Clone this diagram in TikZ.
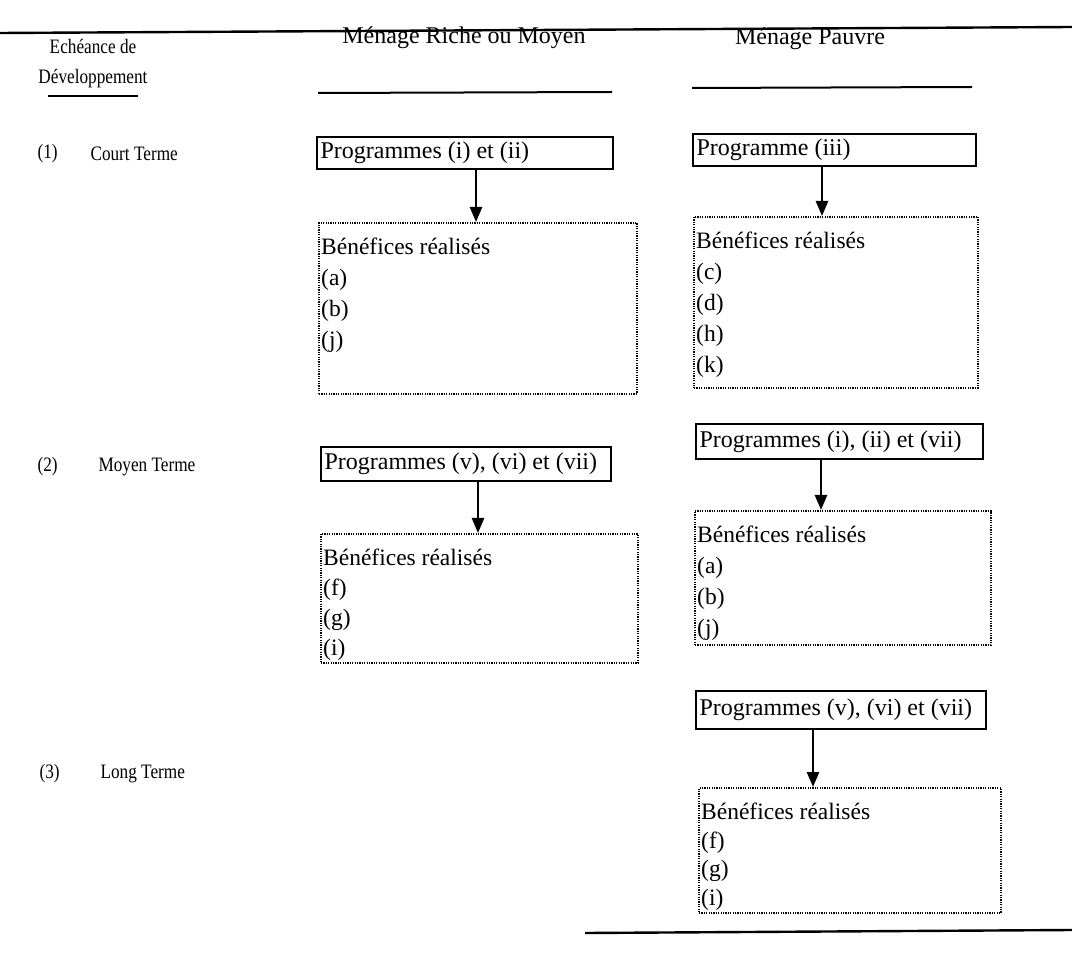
\documentclass[tikz,border=0pt]{standalone}
\usepackage{fontspec}
\setmainfont{Liberation Serif}
\newfontfamily\condfont[FakeStretch=0.84]{Liberation Serif}
\usetikzlibrary{arrows.meta}
\begin{document}
\begin{tikzpicture}[x=1pt,y=-1pt,
  rule/.style={line width=2.4pt},
  uline/.style={line width=2pt},
  progbox/.style={draw,line width=2.4pt,anchor=north west,inner sep=0pt},
  benbox/.style={draw,line width=1.8pt,dash pattern=on 1.2pt off 1.2pt,anchor=north west,inner sep=0pt},
  flow/.style={line width=2.6pt,-{Triangle[length=15pt,width=12pt]}},
  hdr/.style={font=\fontsize{24}{26}\selectfont},
  lbl/.style={font=\condfont\fontsize{20.5}{22}\selectfont,anchor=west},
  txt/.style={font=\fontsize{24}{26}\selectfont,anchor=west},
  bentxt/.style={font=\fontsize{23.5}{31}\selectfont,anchor=north west,align=left,inner sep=0pt}
]
\useasboundingbox (0,0) rectangle (1072,965);
% rules
\coordinate (tl) at (0,33); \coordinate (tr) at (1072,27);
\draw[rule] (tl) -- (tr);
\coordinate (bl) at (585,933); \coordinate (br) at (1072,930);
\draw[rule] (bl) -- (br);
% headers
\node[font=\condfont\fontsize{20.5}{22}\selectfont] (h1) at (93,46) {Echéance de};
\node[font=\condfont\fontsize{20.5}{22}\selectfont] (h2) at (93,79) {Développement};
\coordinate (u1a) at (48,96); \coordinate (u1b) at (138,96);
\draw[uline] (u1a) -- (u1b);
\node[hdr] (h3) at (464,38) {Ménage Riche ou Moyen};
\coordinate (u2a) at (318,93); \coordinate (u2b) at (612,92);
\draw[uline] (u2a) -- (u2b);
\node[hdr] (h4) at (810,39) {Ménage Pauvre};
\coordinate (u3a) at (692,88); \coordinate (u3b) at (972,87);
\draw[uline] (u3a) -- (u3b);
% row labels
\node[lbl] (n1) at (34,154) {(1)};
\node[lbl] (r1) at (87,154) {Court Terme};
\node[lbl] (n2) at (34,467) {(2)};
\node[lbl] (r2) at (95,467) {Moyen Terme};
\node[lbl] (n3) at (36,774) {(3)};
\node[lbl] (r3) at (97,774) {Long Terme};
% row 1 left
\node[progbox,minimum width=296pt,minimum height=32pt] (p1) at (316,136) {};
\node[txt] (p1t) at ([xshift=1pt]p1.west) {Programmes (i) et (ii)};
\node[benbox,minimum width=318pt,minimum height=171pt] (b1) at (318,222) {};
\node[bentxt] (b1t) at ([xshift=3pt,yshift=-16pt]b1.north west) {Bénéfices réalisés\\(a)\\(b)\\(j)};
\draw[flow] (p1.south -| 476,0) -- (b1.north -| 476,0);
% row 1 right
\node[progbox,minimum width=283pt,minimum height=32pt] (p2) at (692,133) {};
\node[txt] (p2t) at ([xshift=1pt]p2.west) {Programme (iii)};
\node[benbox,minimum width=284pt,minimum height=171pt] (b2) at (693,216) {};
\node[bentxt] (b2t) at ([xshift=3pt,yshift=-16pt]b2.north west) {Bénéfices réalisés\\(c)\\(d)\\(h)\\(k)};
\draw[flow] (p2.south -| 822,0) -- (b2.north -| 822,0);
% row 2 left
\node[progbox,minimum width=290pt,minimum height=34pt] (p3) at (320,446) {};
\node[txt] (p3t) at ([xshift=1pt]p3.west) {Programmes (v), (vi) et (vii)};
\node[benbox,minimum width=317pt,minimum height=129pt] (b3) at (320,533) {};
\node[bentxt,font=\fontsize{23.5}{30}\selectfont] (b3t) at ([xshift=3pt,yshift=-16pt]b3.north west) {Bénéfices réalisés\\(f)\\(g)\\(i)};
\draw[flow] (p3.south -| 478,0) -- (b3.north -| 478,0);
% row 2 right
\node[progbox,minimum width=287pt,minimum height=35pt] (p4) at (695,423) {};
\node[txt] (p4t) at ([xshift=1pt]p4.west) {Programmes (i), (ii) et (vii)};
\node[benbox,minimum width=296pt,minimum height=134pt] (b4) at (694,510) {};
\node[bentxt,font=\fontsize{23.5}{31}\selectfont] (b4t) at ([xshift=3pt,yshift=-16pt]b4.north west) {Bénéfices réalisés\\(a)\\(b)\\(j)};
\draw[flow] (p4.south -| 821,0) -- (b4.north -| 821,0);
% row 3 right
\node[progbox,minimum width=290pt,minimum height=38pt] (p5) at (695,690) {};
\node[txt] (p5t) at ([xshift=1pt]p5.west) {Programmes (v), (vi) et (vii)};
\node[benbox,minimum width=302pt,minimum height=125pt] (b5) at (698,787) {};
\node[bentxt,font=\fontsize{23.5}{28.5}\selectfont] (b5t) at ([xshift=3pt,yshift=-16pt]b5.north west) {Bénéfices réalisés\\(f)\\(g)\\(i)};
\draw[flow] (p5.south -| 813,0) -- (b5.north -| 813,0);
\end{tikzpicture}
\end{document}
